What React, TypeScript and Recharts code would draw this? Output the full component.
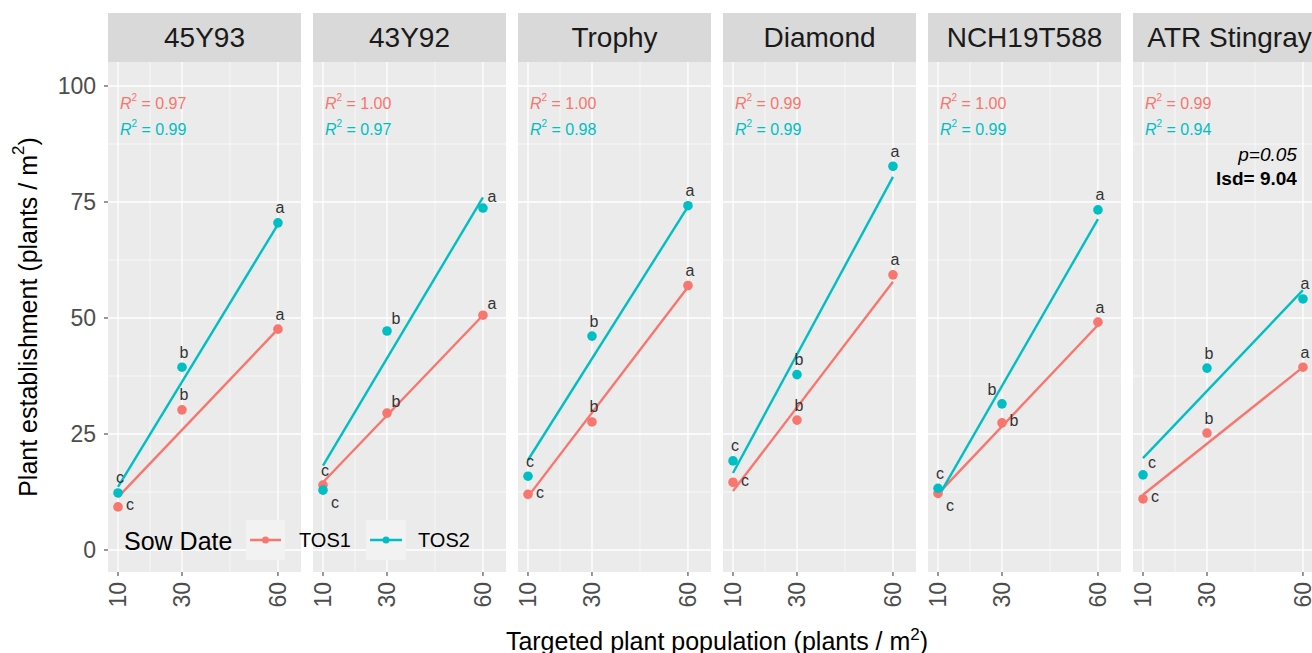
import React from "react";
import { ComposedChart, Line, Scatter, XAxis, YAxis, CartesianGrid } from "recharts";

// cultivars (facets) and targeted populations
const cultivars = ["45Y93", "43Y92", "Trophy", "Diamond", "NCH19T588", "ATR Stingray"];
const targets = [10, 30, 60];
const yTicks = [0, 25, 50, 75, 100];

// mean establishment per cultivar at 10 / 30 / 60 plants/m2
const tos1Values = [
  [9.3, 30.2, 47.6],
  [14.0, 29.5, 50.6],
  [12.0, 27.6, 57.0],
  [14.6, 28.0, 59.3],
  [12.2, 27.4, 49.1],
  [11.0, 25.2, 39.4],
];
const tos2Values = [
  [12.3, 39.4, 70.5],
  [12.9, 47.2, 73.7],
  [15.9, 46.1, 74.2],
  [19.2, 37.8, 82.7],
  [13.3, 31.5, 73.3],
  [16.2, 39.2, 54.1],
];

// fitted line read at x = 10 and x = 60
const tos1Fit = [
  [11.4, 47.6],
  [14.6, 50.6],
  [11.5, 56.7],
  [12.7, 57.8],
  [12.1, 48.5],
  [11.9, 39.4],
];
const tos2Fit = [
  [13.6, 70.2],
  [18.2, 76.0],
  [19.4, 74.0],
  [16.6, 80.4],
  [11.4, 71.3],
  [19.8, 56.0],
];

const tos1Letters = [
  ["c", "b", "a"], ["c", "b", "a"], ["c", "b", "a"],
  ["c", "b", "a"], ["c", "b", "a"], ["c", "b", "a"],
];
const tos2Letters = [
  ["c", "b", "a"], ["c", "b", "a"], ["c", "b", "a"],
  ["c", "b", "a"], ["c", "b", "a"], ["c", "b", "a"],
];

const tos1R2 = ["0.97", "1.00", "1.00", "0.99", "1.00", "0.99"];
const tos2R2 = ["0.99", "0.97", "0.98", "0.99", "0.99", "0.94"];

const lsdLines = ["p=0.05", "lsd= 9.04"];

// where each letter sits next to its point (repel-ish)
const tos1Nudge = [
  ["right", "up", "up"],
  ["up", "upRight", "upRight"],
  ["right", "up", "up"],
  ["right", "up", "up"],
  ["downRight", "right", "up"],
  ["right", "up", "up"],
];
const tos2Nudge = [
  ["up", "up", "up"],
  ["downRight", "upRight", "upRight"],
  ["up", "up", "up"],
  ["up", "up", "up"],
  ["up", "upLeft", "up"],
  ["upRight", "up", "up"],
];
const NUDGE: Record<string, number[]> = {
  up: [2, -15],
  upRight: [9, -12],
  right: [12, -2],
  downRight: [12, 12],
  upLeft: [-10, -14],
};

const RED = "#F8766D";
const CYAN = "#00BFC4";
const FONT = "'Liberation Sans', Arial, sans-serif";

const X_DOMAIN = [6.875, 67.2];
const Y_DOMAIN = [-4.74, 105.17];

const PANEL_LEFT = 108;
const PANEL_STEP = 205;
const PANEL_W = 193;
const PLOT_TOP = 62;
const PLOT_H = 510;
const AXIS_H = 60;
const Y_AXIS_W = 108;
const SIDE_PAD = 14; // room so the rotated "10" is not clipped

function panelRows(i: number) {
  return targets.map((x, j) => ({
    x,
    t1: tos1Values[i][j],
    t2: tos2Values[i][j],
    f1: j === 0 ? tos1Fit[i][0] : j === targets.length - 1 ? tos1Fit[i][1] : null,
    f2: j === 0 ? tos2Fit[i][0] : j === targets.length - 1 ? tos2Fit[i][1] : null,
    l1: tos1Letters[i][j],
    l2: tos2Letters[i][j],
    n1: tos1Nudge[i][j],
    n2: tos2Nudge[i][j],
  }));
}

const makeDot = (color: string, letterKey: string, nudgeKey: string) => (props: any) => {
  const { cx, cy, payload } = props;
  if (cx == null || cy == null) return <g />;
  const [dx, dy] = NUDGE[payload[nudgeKey]] || [2, -15];
  return (
    <g>
      <circle cx={cx} cy={cy} r={4.8} fill={color} />
      <text
        x={cx + dx}
        y={cy + dy}
        fontSize={16}
        fill="#333"
        textAnchor="middle"
        dominantBaseline="central"
        fontFamily={FONT}
      >
        {payload[letterKey]}
      </text>
    </g>
  );
};

const R2Shape = (props: any) => {
  const { cx, cy, payload } = props;
  return (
    <text x={cx} y={cy} fill={payload.color} fontSize={16} dominantBaseline="central" fontFamily={FONT}>
      <tspan fontStyle="italic">R</tspan>
      <tspan dy={-6} fontSize={10}>2</tspan>
      <tspan dy={6}>{" = " + payload.value}</tspan>
    </text>
  );
};

const LsdShape = (props: any) => {
  const { cx, cy, payload } = props;
  return (
    <text
      x={cx}
      y={cy}
      fill="#000"
      fontSize={19}
      textAnchor="end"
      dominantBaseline="central"
      fontFamily={FONT}
      fontStyle={payload.italic ? "italic" : "normal"}
      fontWeight={payload.bold ? "bold" : "normal"}
    >
      {payload.text}
    </text>
  );
};

const XTick = (props: any) => {
  const { x, y, payload } = props;
  return (
    <text
      transform={`translate(${x},${y}) rotate(-90)`}
      textAnchor="end"
      dominantBaseline="central"
      fontSize={23}
      fill="#4D4D4D"
      fontFamily={FONT}
    >
      {payload.value}
    </text>
  );
};

function Panel({ i }: { i: number }) {
  const first = i === 0;
  const rows = panelRows(i);
  const r2 = [
    { x: 10.6, y: 96.3, value: tos1R2[i], color: RED },
    { x: 10.6, y: 90.7, value: tos2R2[i], color: CYAN },
  ];
  const lsd =
    i === cultivars.length - 1
      ? [
          { x: 58.1, y: 85.3, text: lsdLines[0], italic: true },
          { x: 58.1, y: 80.0, text: lsdLines[1], bold: true },
        ]
      : [];
  return (
    <div
      style={{
        position: "absolute",
        left: first ? 0 : PANEL_LEFT + i * PANEL_STEP - SIDE_PAD,
        top: PLOT_TOP,
      }}
    >
      <ComposedChart
        width={PANEL_W + (first ? Y_AXIS_W : SIDE_PAD)}
        height={PLOT_H + AXIS_H}
        data={rows}
        margin={{ top: 0, right: 0, bottom: 0, left: first ? 0 : SIDE_PAD }}
      >
        <CartesianGrid
          fill="#EBEBEB"
          fillOpacity={1}
          stroke="#FFFFFF"
          strokeWidth={0.6}
          horizontalValues={[12.5, 37.5, 62.5, 87.5]}
          verticalValues={[20, 45]}
        />
        <CartesianGrid
          stroke="#FFFFFF"
          strokeWidth={1.3}
          horizontalValues={yTicks}
          verticalValues={targets}
        />
        <XAxis
          type="number"
          dataKey="x"
          domain={X_DOMAIN}
          ticks={targets}
          interval={0}
          allowDataOverflow
          height={AXIS_H}
          axisLine={false}
          tickLine={{ stroke: "#333333" }}
          tickSize={4}
          tickMargin={6}
          tick={<XTick />}
        />
        <YAxis
          type="number"
          domain={Y_DOMAIN}
          ticks={yTicks}
          interval={0}
          allowDataOverflow
          hide={!first}
          width={Y_AXIS_W}
          axisLine={false}
          tickLine={{ stroke: "#333333" }}
          tickSize={4}
          tickMargin={8}
          tick={{ fontSize: 23, fill: "#4D4D4D", fontFamily: FONT }}
        />
        <Line
          dataKey="f1"
          type="linear"
          stroke={RED}
          strokeWidth={2.4}
          dot={false}
          connectNulls
          isAnimationActive={false}
        />
        <Line
          dataKey="f2"
          type="linear"
          stroke={CYAN}
          strokeWidth={2.4}
          dot={false}
          connectNulls
          isAnimationActive={false}
        />
        <Scatter dataKey="t1" shape={makeDot(RED, "l1", "n1")} isAnimationActive={false} />
        <Scatter dataKey="t2" shape={makeDot(CYAN, "l2", "n2")} isAnimationActive={false} />
        <Scatter data={r2} dataKey="y" shape={R2Shape} isAnimationActive={false} />
        {lsd.length > 0 && (
          <Scatter data={lsd} dataKey="y" shape={LsdShape} isAnimationActive={false} />
        )}
      </ComposedChart>
    </div>
  );
}

export default function App() {
  return (
    <div
      style={{
        position: "fixed",
        left: 0,
        top: 0,
        width: 1312,
        height: 653,
        overflow: "hidden",
        background: "#FFFFFF",
        fontFamily: FONT,
      }}
    >
      {cultivars.map((name, i) => (
        <div
          key={"strip" + i}
          style={{
            position: "absolute",
            left: PANEL_LEFT + i * PANEL_STEP,
            top: 13,
            width: PANEL_W,
            height: PLOT_TOP - 13,
            background: "#D9D9D9",
            display: "flex",
            alignItems: "center",
            justifyContent: "center",
            fontSize: 28,
            color: "#1A1A1A",
            whiteSpace: "nowrap",
          }}
        >
          {name}
        </div>
      ))}
      {cultivars.map((_, i) => (
        <Panel key={"panel" + i} i={i} />
      ))}
      <svg
        width={1312}
        height={653}
        style={{ position: "absolute", left: 0, top: 0, pointerEvents: "none" }}
      >
        {/* axis titles */}
        <text
          transform="translate(28,317) rotate(-90)"
          textAnchor="middle"
          dominantBaseline="central"
          fontSize={25}
          fill="#000"
          fontFamily={FONT}
        >
          Plant establishment (plants / m
          <tspan dy={-10} fontSize={17}>2</tspan>
          <tspan dy={10}>)</tspan>
        </text>
        <text x={717} y={650} textAnchor="middle" fontSize={25} fill="#000" fontFamily={FONT}>
          Targeted plant population (plants / m
          <tspan dy={-10} fontSize={17}>2</tspan>
          <tspan dy={10}>)</tspan>
        </text>

        {/* legend */}
        <text x={124} y={550} fontSize={25} fill="#000" fontFamily={FONT}>
          Sow Date
        </text>
        <rect x={246} y={520} width={39} height={40} fill="#F2F2F2" />
        <line x1={250} x2={281} y1={540} y2={540} stroke={RED} strokeWidth={2.5} />
        <circle cx={265.5} cy={540} r={3.5} fill={RED} />
        <text x={299} y={547} fontSize={20} fill="#000" fontFamily={FONT}>
          TOS1
        </text>
        <rect x={366} y={520} width={40} height={40} fill="#F2F2F2" />
        <line x1={370} x2={402} y1={540} y2={540} stroke={CYAN} strokeWidth={2.5} />
        <circle cx={386} cy={540} r={3.5} fill={CYAN} />
        <text x={418} y={547} fontSize={20} fill="#000" fontFamily={FONT}>
          TOS2
        </text>
      </svg>
    </div>
  );
}
